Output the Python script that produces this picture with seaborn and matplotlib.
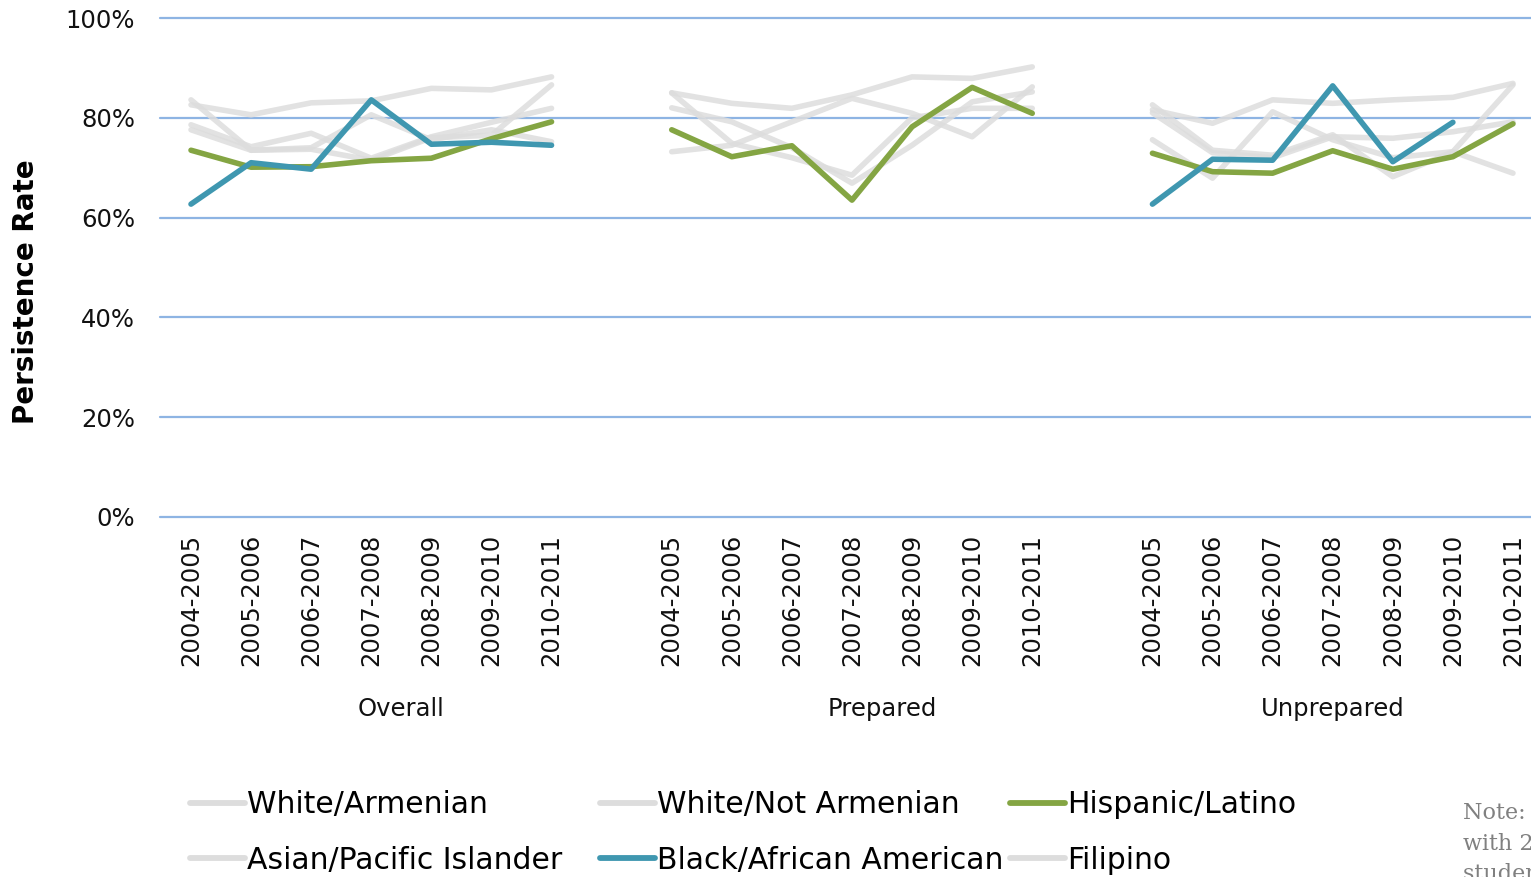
import numpy as np
import pandas as pd
import matplotlib
matplotlib.use("Agg")
import matplotlib.pyplot as plt
from matplotlib.lines import Line2D
from matplotlib.ticker import PercentFormatter
import seaborn as sns

# ---------------- data ----------------
years = ["2004-2005", "2005-2006", "2006-2007", "2007-2008",
         "2008-2009", "2009-2010", "2010-2011"]
groups = ["Overall", "Prepared", "Unprepared"]
series_names = ["White/Armenian", "White/Not Armenian", "Asian/Pacific Islander",
                "Filipino", "Hispanic/Latino", "Black/African American"]

# values per series: Overall (7) + Prepared (7) + Unprepared (7), in percent
white_armenian = [82.6, 80.6, 83.0, 83.4, 85.9, 85.6, 88.2,
                  85.0, 82.9, 81.9, 84.6, 88.2, 87.9, 90.2,
                  81.6, 78.9, 83.6, 82.9, 83.6, 84.1, 86.9]
white_not_armenian = [83.6, 73.5, 73.7, 71.5, 76.0, 76.5, 86.6,
                      73.2, 74.5, 79.2, 83.9, 80.9, 76.2, 86.2,
                      82.6, 73.5, 72.5, 76.6, 68.2, 73.2, 86.6]
asian_pacific = [78.6, 74.2, 76.9, 71.9, 76.2, 79.1, 81.9,
                 82.0, 79.2, 74.0, 66.9, 74.5, 83.2, 85.2,
                 75.6, 67.9, 81.2, 75.6, 72.0, 73.2, 68.9]
filipino = [77.6, 73.5, 74.0, 80.6, 75.6, 77.6, 75.2,
            85.0, 74.9, 72.0, 68.5, 80.0, 81.9, 81.9,
            81.0, 73.0, 72.0, 76.2, 75.9, 77.2, 79.2]
hispanic = [73.5, 70.1, 70.2, 71.4, 71.9, 75.8, 79.2,
            77.6, 72.2, 74.4, 63.5, 78.2, 86.1, 80.9,
            72.9, 69.2, 68.9, 73.4, 69.7, 72.2, 78.8]
black = [62.7, 71.0, 69.7, 83.6, 74.7, 75.1, 74.5,
         np.nan, np.nan, np.nan, np.nan, np.nan, np.nan, np.nan,
         62.7, 71.7, 71.5, 86.4, 71.2, 79.1, np.nan]

series_values = [white_armenian, white_not_armenian, asian_pacific,
                 filipino, hispanic, black]

# ---------------- styling ----------------
GRAY = "#DDDDDD"
GREEN = "#84A543"
TEAL = "#3F97B0"
GRID = "#8EB4E3"
palette = {"White/Armenian": GRAY, "White/Not Armenian": GRAY,
           "Asian/Pacific Islander": GRAY, "Filipino": GRAY,
           "Hispanic/Latino": GREEN, "Black/African American": TEAL}

# long-form table; a blank category slot separates the groups
rows = []
n = len(years)
for name, vals in zip(series_names, series_values):
    for gi, g in enumerate(groups):
        for yi, yr in enumerate(years):
            rows.append({"series": name, "group": g, "year": yr,
                         "pos": gi * (n + 1) + yi, "rate": vals[gi * n + yi]})
df = pd.DataFrame(rows)

sns.set_theme(style="white")
plt.rcParams["font.family"] = ["DejaVu Sans"]

W, H = 1531, 877
fig = plt.figure(figsize=(W / 100, H / 100), dpi=100)
ax = fig.add_axes([160 / W, (H - 517) / H, (W - 160) / W, 499 / H])

sns.lineplot(data=df, x="pos", y="rate", hue="series", units="group",
             estimator=None, hue_order=series_names, palette=palette,
             linewidth=4.0, sort=False, legend=False, ax=ax,
             solid_capstyle="round", solid_joinstyle="round")
for ln in ax.lines:
    if matplotlib.colors.to_hex(ln.get_color()).upper() == GRAY:
        ln.set_alpha(0.85)

slot = 60.09
ax.set_xlim(-31 / slot, (W - 191) / slot)
ax.set_ylim(0, 100)
ax.set_yticks(np.arange(0, 101, 20))
ax.yaxis.set_major_formatter(PercentFormatter(100, decimals=0))

ticks = [gi * (n + 1) + yi for gi in range(len(groups)) for yi in range(n)]
ax.set_xticks(ticks)
ax.set_xticklabels(years * len(groups), rotation=90)
ax.tick_params(axis="x", length=0, pad=12, labelsize=17.5, labelcolor="#111111")
ax.tick_params(axis="y", length=0, pad=18, labelsize=17.5, labelcolor="#111111")

ax.yaxis.grid(True, color=GRID, linewidth=1.6)
ax.xaxis.grid(False)
for gl in ax.get_ygridlines():
    gl.set_clip_on(False)
for s in ax.spines.values():
    s.set_visible(False)

ax.set_xlabel("")
ax.set_ylabel("Persistence Rate", fontsize=20, fontweight="bold", color="black")
ax.yaxis.set_label_coords((40 - 160) / (W - 160), 0.451)

# group labels under the year labels
trans = matplotlib.transforms.blended_transform_factory(ax.transData, ax.transAxes)
group_centers = [3.5, 11.5, 19.0]
for g, cx in zip(groups, group_centers):
    ax.text(cx, (517 - 709) / 499, g, transform=trans, ha="center", va="center",
            fontsize=17.5, color="#111111")

# legend: three columns laid out like the original (row-major order)
handles = {name: Line2D([0], [0], color=palette[name], linewidth=4.2,
                        solid_capstyle="round") for name in series_names}
columns = [["White/Armenian", "Asian/Pacific Islander"],
           ["White/Not Armenian", "Black/African American"],
           ["Hispanic/Latino", "Filipino"]]
col_x = [190, 600, 1010]
for names, cx in zip(columns, col_x):
    leg = fig.legend([handles[k] for k in names], names, loc="upper left",
                     bbox_to_anchor=(cx / W, 1 - 790 / H), ncol=1, frameon=False,
                     fontsize=21.5, handlelength=1.85, handletextpad=0.05,
                     labelspacing=0.9, borderpad=0, borderaxespad=0)
    for t in leg.get_texts():
        t.set_color("black")

# clipped note at the right edge
fig.text(1463 / W, 1 - 802 / H, "Note: Only groups\nwith 20 or more\nstudents are shown.",
         family="DejaVu Serif", fontsize=16, color="#808080", va="top", ha="left",
         linespacing=1.5)

fig.savefig("out.png", dpi=100)
